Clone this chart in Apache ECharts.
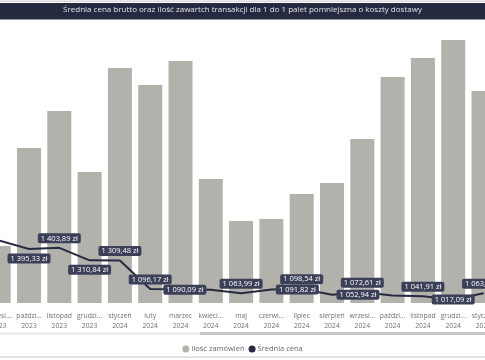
<!DOCTYPE html>
<html><head><meta charset="utf-8">
<script src="https://cdn.jsdelivr.net/npm/echarts@6/dist/echarts.min.js"></script>
<style>html,body{margin:0;padding:0;background:#fff}#c{width:485px;height:360px}</style>
</head><body><div id="c"></div>
<script>
// Categories (visible window of a scrolled chart)
const months = ['wrzesi...','paździ...','listopad','grudzi...','styczeń','luty','marzec','kwieci...','maj','czerwi...','lipiec','sierpień','wrzesi...','paździ...','listopad','grudzi...','styczeń'];
const years  = ['2023','2023','2023','2023','2024','2024','2024','2024','2024','2024','2024','2024','2024','2024','2024','2024','2025'];
// Ilość zamówień (estimated, relative)
const orders = [57,155,192,131,235,218,242,124,82,84,109,120,164,226,245,263,212];
// Średnia cena (zł)
const avgPrice = [1460,1395.33,1403.89,1310.84,1309.48,1096.17,1094,1090.09,1063.99,1091.82,1098.54,1052.94,1072.61,1047.5,1041.91,1017.09,1063.93];
// label placement per point (style only)
const labelPlacement = ['none','bottom','top','bottom','top','top','none','left','top','right','top','right','top','none','top','inside','top'];

function fmt(v){
  const s = v.toFixed(2).split('.');
  const int = s[0].replace(/\B(?=(\d{3})+(?!\d))/g,' ');
  return int + ',' + s[1] + ' zł';
}

const FONT = '"Open Sans","Noto Sans",sans-serif';
const chart = echarts.init(document.getElementById('c'), null, {renderer:'canvas'});
const lineData = avgPrice.map((v,i)=>{
  const p = labelPlacement[i];
  return {value:v, label: p==='none' ? {show:false} : {show:true, position:p}};
});
chart.setOption({
  animation:false,
  textStyle:{fontFamily:FONT},
  title:{
    text:'Średnia cena brutto oraz ilość zawartch transakcji dla 1 do 1 palet pomniejszna o koszty dostawy',
    left:'center', top:6, padding:0, z:10,
    textStyle:{fontSize:8, fontWeight:'normal', color:'#e4e4e8', fontFamily:FONT}
  },
  graphic:[
    {type:'rect', shape:{x:0,y:0.5,width:485,height:1.5}, style:{fill:'#d6d6de'}, z:0},
    {type:'rect', shape:{x:0,y:3,width:485,height:16.5}, style:{fill:'#252a40'}, z:0},
    {type:'rect', shape:{x:0,y:332,width:485,height:3}, style:{fill:'#eeeeee'}, z:0},
    {type:'rect', shape:{x:200,y:332,width:285,height:3}, style:{fill:'#c6c6c6'}, z:0},
    {type:'rect', shape:{x:0,y:356.5,width:485,height:1}, style:{fill:'#c8c8c8'}, z:0}
  ],
  legend:{
    left:'center', top:340, itemWidth:7, itemHeight:7, itemGap:4, icon:'circle',
    textStyle:{fontSize:7.5, color:'#6a6a6a', fontFamily:FONT, padding:[0,0,0,-3]},
    data:['Ilość zamówień','Średnia cena']
  },
  grid:{left:-16.45, right:-13.65, top:30, bottom:57, containLabel:false, outerBoundsMode:'none'},
  xAxis:{
    type:'category',
    data: months.map((m,i)=>m+'\n'+years[i]),
    axisLine:{show:false}, axisTick:{show:false},
    axisLabel:{interval:0, color:'#707070', fontSize:6.8, lineHeight:10, margin:8, fontFamily:FONT}
  },
  yAxis:[
    {type:'value', min:0, max:273, show:false, splitLine:{show:false}},
    {type:'value', min:991.45, max:3033.5, show:false, splitLine:{show:false}}
  ],
  series:[
    {name:'Ilość zamówień', type:'bar', data:orders, barWidth:24, yAxisIndex:0,
     itemStyle:{color:'#b3b1ab'}},
    {name:'Średnia cena', type:'line', data:lineData, yAxisIndex:1,
     symbol:'circle', symbolSize:1, showSymbol:true,
     lineStyle:{color:'#252a40', width:2}, itemStyle:{color:'#252a40'},
     label:{show:true, distance:4, formatter:p=>fmt(p.value),
       backgroundColor:'#3b3f58', color:'#ffffff', borderRadius:2, padding:[1,3],
       fontSize:7.5, lineHeight:8, fontFamily:FONT},
     labelLayout:{hideOverlap:false}, z:5}
  ]
});
</script></body></html>
